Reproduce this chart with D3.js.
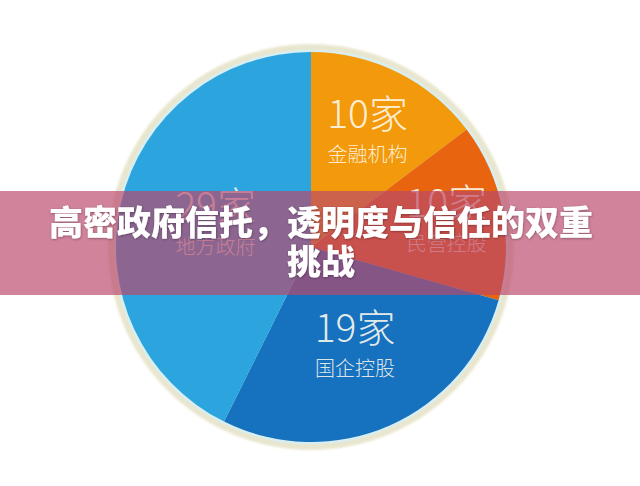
<!DOCTYPE html>
<html>
<head>
<meta charset="utf-8">
<script src="https://cdn.jsdelivr.net/npm/d3@7/dist/d3.min.js"></script>
<style>
  html, body { margin: 0; padding: 0; background: #ffffff; }
  svg { display: block; }
</style>
</head>
<body>
<svg id="chart" width="640" height="486"></svg>
<script>
// ---- data ----
const categories = ["金融机构", "民营控股", "国企控股", "地方政府"];
const counts = [10, 10, 19, 29];
const countLabels = ["10家", "10家", "19家", "29家"];
const titleLines = ["高密政府信托，透明度与信任的双重", "挑战"];

// ---- styles / layout ----
const colors = ["#f39a0c", "#e8640e", "#1671be", "#2ca5df"];
const labelRadius = [127, 138, 109, 98];
const W = 640, H = 486;
const cx = 311, cy = 247, R = 195;

const svg = d3.select("#chart");
const defs = svg.append("defs");
const blur = defs.append("filter").attr("id", "soft").attr("x", "-10%").attr("y", "-10%").attr("width", "120%").attr("height", "120%");
blur.append("feGaussianBlur").attr("stdDeviation", 1.2);
const sh = defs.append("filter").attr("id", "tshadow").attr("x", "-5%").attr("y", "-20%").attr("width", "110%").attr("height", "140%");
sh.append("feDropShadow").attr("dx", 0.5).attr("dy", 0.8).attr("stdDeviation", 0.8).attr("flood-color", "#000").attr("flood-opacity", 0.35);

const g = svg.append("g").attr("transform", `translate(${cx},${cy})`);

// outer cream ring
g.append("circle").attr("r", R + 8).attr("fill", "#e9e6cf").attr("filter", "url(#soft)");
g.append("circle").attr("r", R + 2.5).attr("fill", "#d9eef0");

const pie = d3.pie().sort(null).value(d => d)(counts);
const arc = d3.arc().innerRadius(0).outerRadius(R);

g.selectAll("path.slice")
  .data(pie)
  .join("path")
  .attr("class", "slice")
  .attr("d", arc)
  .attr("fill", (d, i) => colors[i]);

// labels
const lab = g.selectAll("g.lab")
  .data(pie)
  .join("g")
  .attr("class", "lab")
  .attr("transform", (d, i) => {
    const a = d3.arc().innerRadius(labelRadius[i]).outerRadius(labelRadius[i]);
    const [x, y] = a.centroid(d);
    return `translate(${x},${y})`;
  });

lab.append("text")
  .attr("text-anchor", "middle")
  .attr("y", -5)
  .attr("font-family", "'Noto Sans CJK SC', 'Noto Sans', sans-serif")
  .attr("font-weight", 300)
  .attr("font-size", 39)
  .attr("fill", "#fffbef")
  .attr("fill-opacity", 0.9)
  .text((d, i) => countLabels[i]);

lab.append("text")
  .attr("text-anchor", "middle")
  .attr("y", 29)
  .attr("font-family", "'Noto Sans CJK SC', 'Noto Sans', sans-serif")
  .attr("font-weight", 300)
  .attr("font-size", 20)
  .attr("fill", "#fffbef")
  .attr("fill-opacity", 0.87)
  .text((d, i) => categories[i]);

// title band
svg.append("rect")
  .attr("x", 0).attr("y", 191)
  .attr("width", W).attr("height", 104)
  .attr("fill", "rgb(186,72,108)")
  .attr("fill-opacity", 0.68);

svg.append("g")
  .selectAll("text")
  .data(titleLines)
  .join("text")
  .attr("x", W / 2 + 1)
  .attr("y", (d, i) => 235 + i * 39)
  .attr("text-anchor", "middle")
  .attr("font-family", "'Noto Sans CJK SC', sans-serif")
  .attr("font-weight", 900)
  .attr("font-size", 34)
  .attr("fill", "#ffffff")
  .attr("filter", "url(#tshadow)")
  .text(d => d);
</script>
</body>
</html>
